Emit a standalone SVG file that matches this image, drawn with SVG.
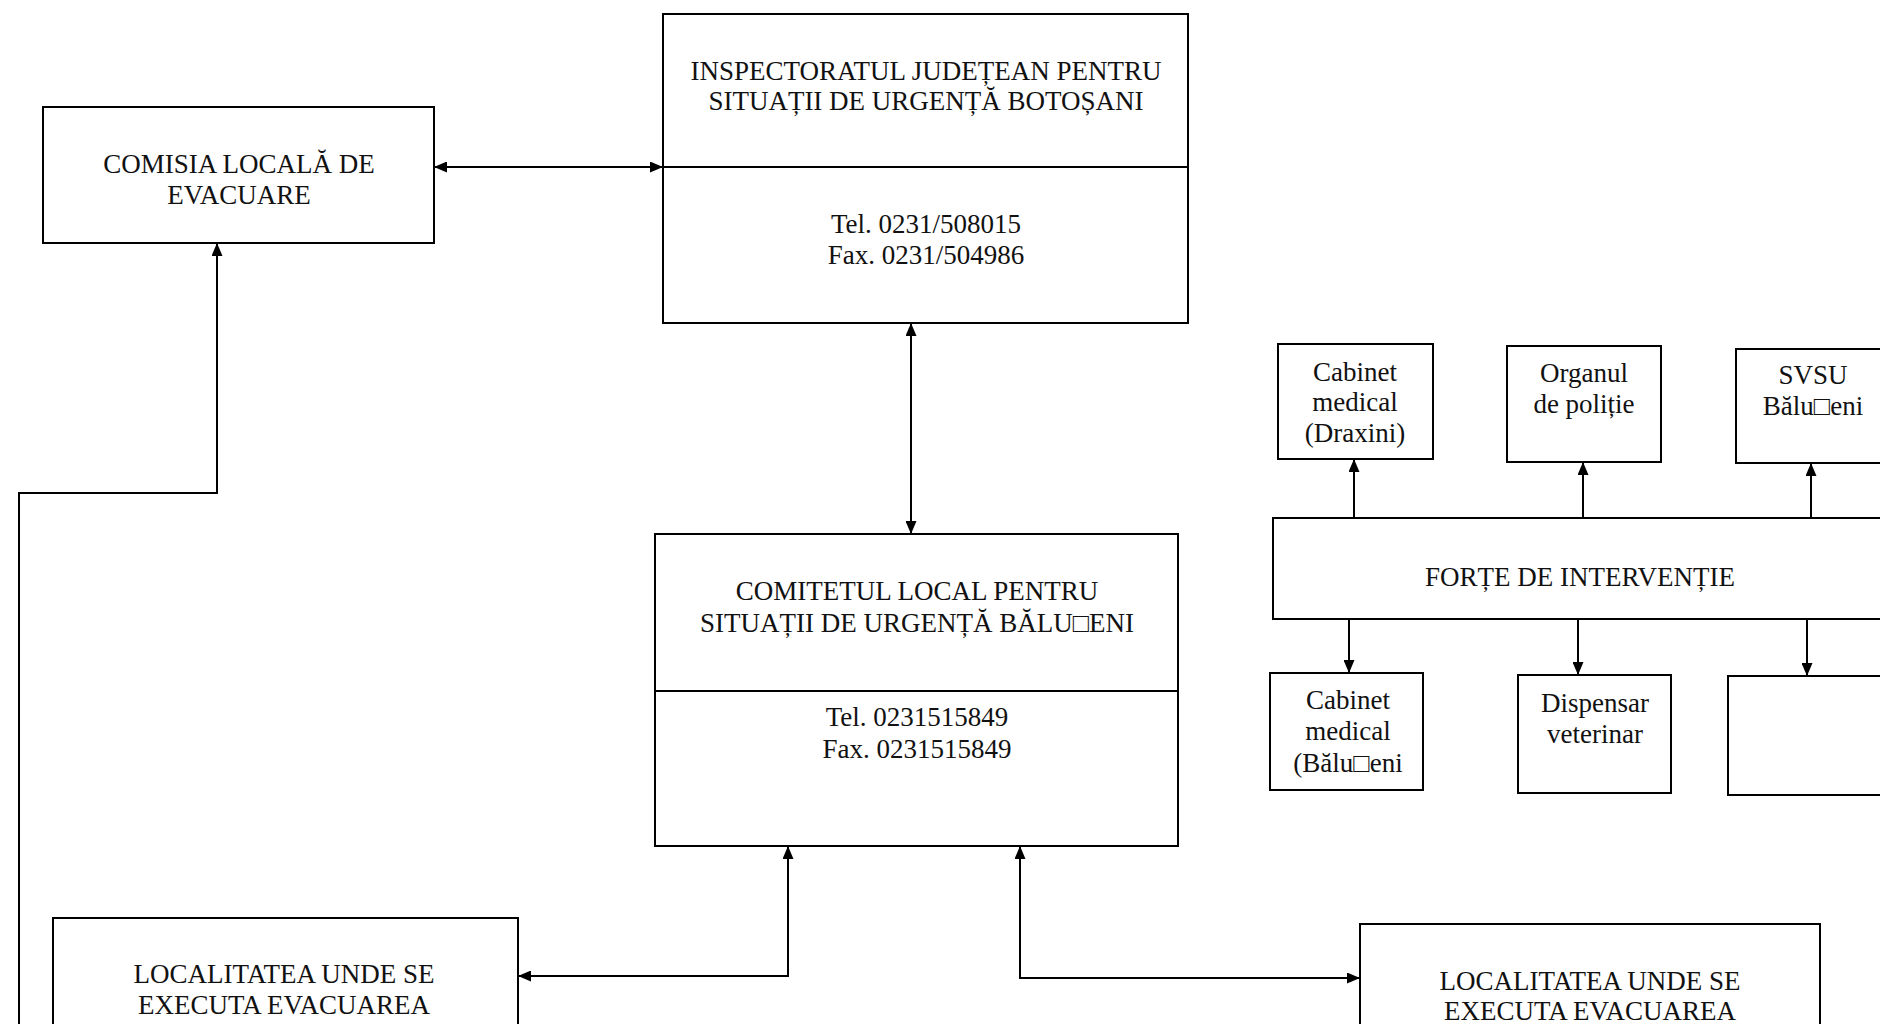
<svg xmlns="http://www.w3.org/2000/svg" width="1880" height="1024" viewBox="0 0 1880 1024">
<defs>
<marker id="ah" viewBox="0 0 13 11" refX="13" refY="5.5" markerWidth="13" markerHeight="11" markerUnits="userSpaceOnUse" orient="auto-start-reverse">
<path d="M0,0 L13,5.5 L0,11 z" fill="#000"/>
</marker>
<style>
.box{fill:#fff;stroke:#000;stroke-width:2}
.div{stroke:#000;stroke-width:2}
.t{font-family:"Liberation Serif","Times New Roman",serif;font-size:27px;fill:#111;text-anchor:middle}
.c{fill:none;stroke:#000;stroke-width:2}
</style>
</defs>
<rect width="1880" height="1024" fill="#fff"/>
<g id="connectors">
<path class="c" d="M434,167 H663" marker-start="url(#ah)" marker-end="url(#ah)"/>
<path class="c" d="M911,323 V534" marker-start="url(#ah)" marker-end="url(#ah)"/>
<path class="c" d="M19,1024 V493 H217 V243" marker-end="url(#ah)"/>
<path class="c" d="M518,976 H788 V846" marker-start="url(#ah)" marker-end="url(#ah)"/>
<path class="c" d="M1020,846 V978 H1360" marker-start="url(#ah)" marker-end="url(#ah)"/>
<path class="c" d="M1354,518 V459" marker-end="url(#ah)"/>
<path class="c" d="M1583,518 V462" marker-end="url(#ah)"/>
<path class="c" d="M1811,518 V463" marker-end="url(#ah)"/>
<path class="c" d="M1349,619 V673" marker-end="url(#ah)"/>
<path class="c" d="M1578,619 V675" marker-end="url(#ah)"/>
<path class="c" d="M1807,619 V676" marker-end="url(#ah)"/>
</g>
<g id="comisia">
<rect class="box" x="43" y="107" width="391" height="136"/>
<text class="t" x="239" y="173">COMISIA LOCALĂ DE</text>
<text class="t" x="239" y="204">EVACUARE</text>
</g>
<g id="inspectoratul">
<rect class="box" x="663" y="14" width="525" height="309"/>
<line class="div" x1="663" y1="167" x2="1188" y2="167"/>
<text class="t" x="926" y="80">INSPECTORATUL JUDEȚEAN PENTRU</text>
<text class="t" x="926" y="110">SITUAȚII DE URGENȚĂ BOTOȘANI</text>
<text class="t" x="926" y="233">Tel. 0231/508015</text>
<text class="t" x="926" y="264">Fax. 0231/504986</text>
</g>
<g id="comitetul">
<rect class="box" x="655" y="534" width="523" height="312"/>
<line class="div" x1="655" y1="691" x2="1178" y2="691"/>
<text class="t" x="917" y="600">COMITETUL LOCAL PENTRU</text>
<text class="t" x="917" y="632">SITUAȚII DE URGENȚĂ BĂLU□ENI</text>
<text class="t" x="917" y="726">Tel. 0231515849</text>
<text class="t" x="917" y="758">Fax. 0231515849</text>
</g>
<g id="localitatea-stanga">
<rect class="box" x="53" y="918" width="465" height="130"/>
<text class="t" x="284" y="983">LOCALITATEA UNDE SE</text>
<text class="t" x="284" y="1014">EXECUTA EVACUAREA</text>
</g>
<g id="localitatea-dreapta">
<rect class="box" x="1360" y="924" width="460" height="130"/>
<text class="t" x="1590" y="990">LOCALITATEA UNDE SE</text>
<text class="t" x="1590" y="1020">EXECUTA EVACUAREA</text>
</g>
<g id="forte">
<rect class="box" x="1273" y="518" width="640" height="101"/>
<text class="t" x="1580" y="586">FORȚE DE INTERVENȚIE</text>
</g>
<g id="cabinet-draxini">
<rect class="box" x="1278" y="344" width="155" height="115"/>
<text class="t" x="1355" y="381">Cabinet</text>
<text class="t" x="1355" y="411">medical</text>
<text class="t" x="1355" y="442">(Draxini)</text>
</g>
<g id="organul-politie">
<rect class="box" x="1507" y="346" width="154" height="116"/>
<text class="t" x="1584" y="382">Organul</text>
<text class="t" x="1584" y="413">de poliție</text>
</g>
<g id="svsu">
<rect class="box" x="1736" y="349" width="170" height="114"/>
<text class="t" x="1813" y="384">SVSU</text>
<text class="t" x="1813" y="415">Bălu□eni</text>
</g>
<g id="cabinet-baluseni">
<rect class="box" x="1270" y="673" width="153" height="117"/>
<text class="t" x="1348" y="709">Cabinet</text>
<text class="t" x="1348" y="740">medical</text>
<text class="t" x="1348" y="772">(Bălu□eni</text>
</g>
<g id="dispensar">
<rect class="box" x="1518" y="675" width="153" height="118"/>
<text class="t" x="1595" y="712">Dispensar</text>
<text class="t" x="1595" y="743">veterinar</text>
</g>
<g id="caseta-goala">
<rect class="box" x="1728" y="676" width="170" height="119"/>
</g>
</svg>
